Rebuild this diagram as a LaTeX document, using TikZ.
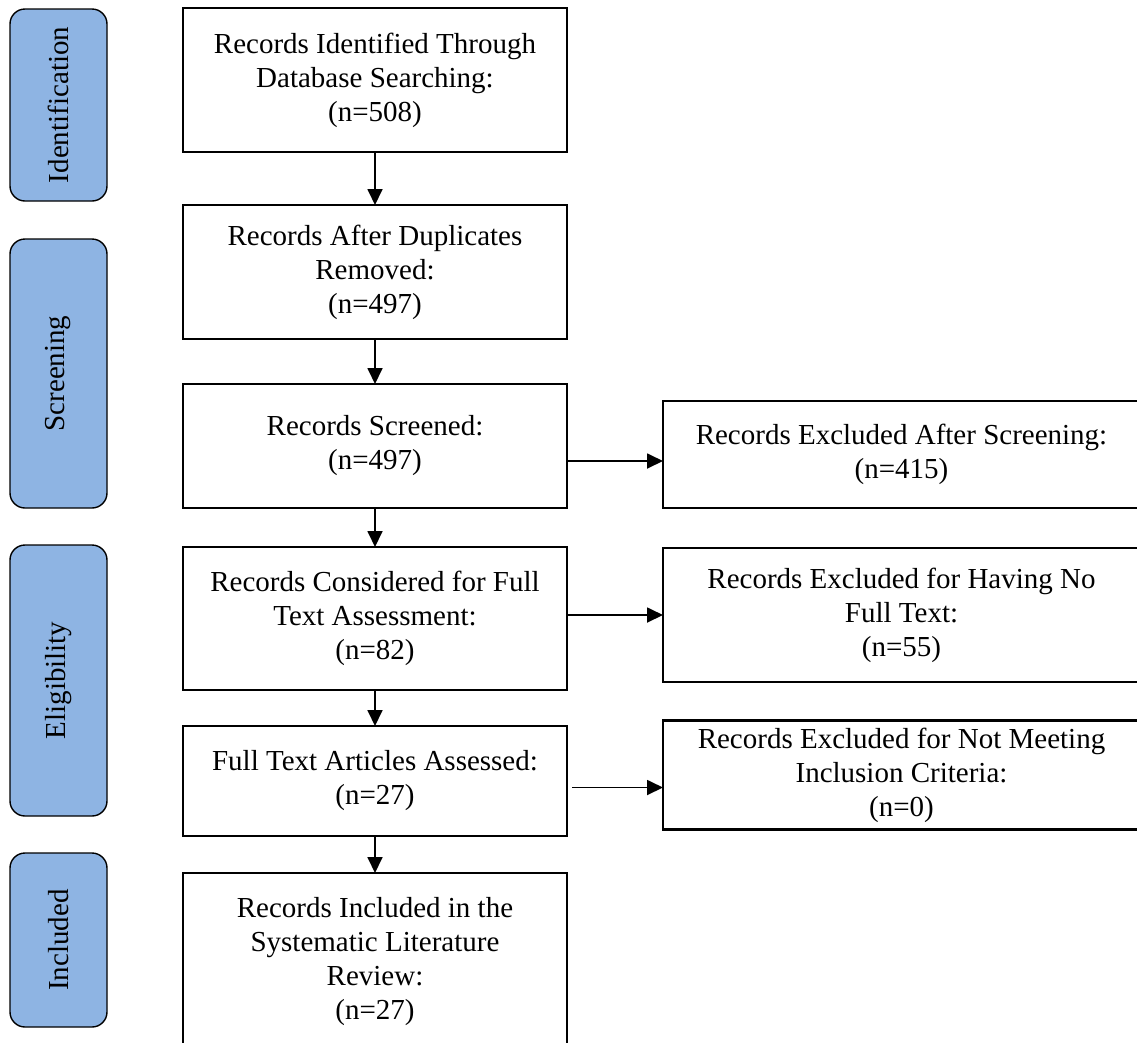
\documentclass[tikz,border=0pt]{standalone}
\usepackage{fontspec}
\setmainfont{Liberation Serif}
\usepackage{graphicx}
\usetikzlibrary{positioning,arrows.meta}
\definecolor{phaseblue}{HTML}{8EB4E3}

\begin{document}
\begin{tikzpicture}[x=1pt,y=1pt,font=\fontsize{29}{34}\selectfont,
    stage node/.style={rectangle,draw,line width=2.2pt,outer sep=0pt,align=center,minimum width=384pt,inner sep=2pt},
    excl node/.style={rectangle,draw,line width=2.2pt,outer sep=0pt,align=center,minimum width=477pt,inner sep=2pt},
    phase node/.style={rectangle,rounded corners=15pt,draw,line width=1.4pt,outer sep=0pt,fill=phaseblue,minimum width=97pt},
    flow/.style={line width=1.8pt,-{Triangle[length=16pt,width=15pt]}}]
                \useasboundingbox (0,0) rectangle (1137,-1042);

                \node[stage node,minimum height=144pt] (b1) at (375,-80) {Records Identified Through\\Database Searching:\\(n=508)};
                \node[stage node,minimum height=134pt] (b2) [below=53pt of b1] {Records After Duplicates\\Removed:\\(n=497)};
                \node[stage node,minimum height=124pt] (b3) [below=45pt of b2] {Records Screened:\\(n=497)};
                \node[stage node,minimum height=143pt] (b4) [below=39pt of b3] {Records Considered for Full\\Text Assessment:\\(n=82)};
                \node[stage node,minimum height=110pt] (b5) [below=36pt of b4] {Full Text Articles Assessed:\\(n=27)};
                \node[stage node,minimum height=178pt] (b6) [below=37pt of b5] {Records Included in the\\Systematic Literature\\Review:\\(n=27)};

                \node[excl node,minimum height=107pt] (r1) [right=96pt of b3,yshift=-8.5pt] {Records Excluded After Screening:\\(n=415)};
                \node[excl node,minimum height=134pt] (r2) [right=96pt of b4,yshift=3.5pt] {Records Excluded for Having No\\Full Text:\\(n=55)};
                \node[excl node,minimum height=109pt] (r3) [right=96pt of b5,yshift=6pt] {Records Excluded for Not Meeting\\Inclusion Criteria:\\(n=0)};

                \node[phase node,minimum height=192pt] (ph1) at (58.5,-105) {\rotatebox{90}{Identification}};
                \node[phase node,minimum height=269pt] (ph2) [below=38pt of ph1] {\rotatebox{90}{Screening}};
                \node[phase node,minimum height=271pt] (ph3) [below=37pt of ph2] {\rotatebox{90}{Eligibility}};
                \node[phase node,minimum height=174pt] (ph4) [below=37pt of ph3] {\rotatebox{90}{Included}};

                \coordinate (in1) at ([yshift=-6.5pt]r1.west);
                \coordinate (in3) at ([yshift=-12.5pt]r3.west);

                \path[flow]
                    (b1) edge (b2)
                    (b2) edge (b3)
                    (b3) edge (b4)
                    (b4) edge (b5)
                    (b5) edge (b6)
                    ;
                \draw[flow] (in1 -| b3.east) -- (in1);
                \draw[flow] (b4.east |- r2.west) -- (r2.west);
                \draw[flow,shorten <=5pt] (in3 -| b5.east) -- (in3);
\end{tikzpicture}
\end{document}
